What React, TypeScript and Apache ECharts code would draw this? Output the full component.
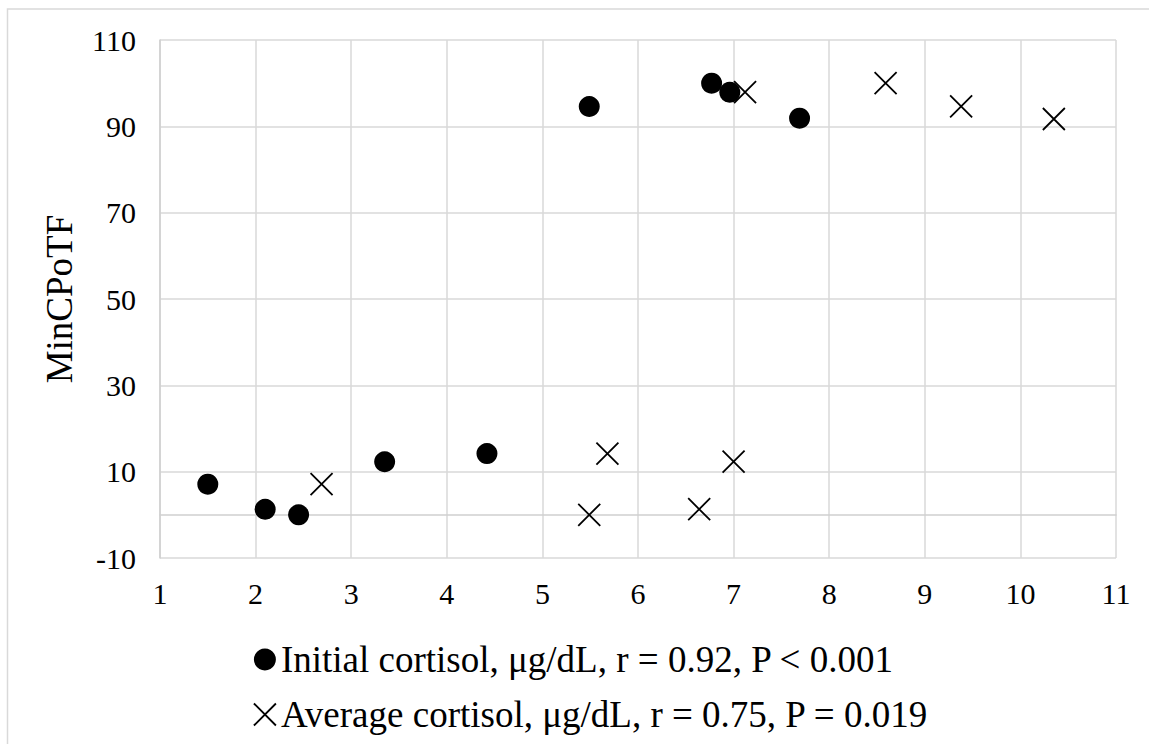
import React, { useEffect, useRef } from "react";
import * as echarts from "echarts";

const FONT = "'Liberation Serif', 'Times New Roman', serif";

const initialName = "Initial cortisol, μg/dL, r = 0.92, P < 0.001";
const averageName = "Average cortisol, μg/dL, r = 0.75, P = 0.019";

const initialX = [1.5, 2.1, 2.45, 3.35, 4.42, 5.49, 6.77, 6.96, 7.69];
const initialY = [7.1, 1.3, 0, 12.3, 14.2, 94.6, 100, 97.9, 91.9];
const averageX = [2.69, 6.64, 5.49, 7.0, 5.68, 9.38, 8.59, 7.12, 10.35];
const averageY = [7.1, 1.3, 0, 12.3, 14.2, 94.6, 100, 97.9, 91.7];

const xMin = 1;
const xMax = 11;
const yMin = -10;
const yMax = 110;

const CROSS = "path://M0,0L10,10M10,0L0,10";

export default function App() {
  const ref = useRef<HTMLDivElement>(null);

  useEffect(() => {
    document.body.style.margin = "0";
    document.body.style.overflow = "hidden";
    if (!ref.current) return;
    const chart = echarts.init(ref.current, undefined, { renderer: "svg" });
    const gridColor = "#d9d9d9";
    chart.setOption({
      animation: false,
      backgroundColor: "#ffffff",
      textStyle: { fontFamily: FONT, color: "#000" },
      graphic: [
        {
          type: "rect",
          shape: { x: 7.5, y: 9, width: 1200, height: 800 },
          style: { fill: "none", stroke: "#d9d9d9", lineWidth: 1.5 },
          silent: true,
        },
      ],
      grid: { left: 160, top: 40, right: 33, bottom: 186, containLabel: false },
      xAxis: {
        type: "value",
        min: xMin,
        max: xMax,
        interval: 1,
        axisLine: { show: true, lineStyle: { color: "#cfcfcf", width: 1.5 } },
        axisTick: { show: false },
        splitLine: { show: true, lineStyle: { color: gridColor, width: 1.5 } },
        axisLabel: { fontSize: 30, fontFamily: FONT, color: "#000", margin: 20 },
      },
      yAxis: {
        type: "value",
        min: yMin,
        max: yMax,
        interval: 20,
        name: "MinCPoTF",
        nameLocation: "middle",
        nameGap: 82,
        nameTextStyle: { fontSize: 37, fontFamily: FONT, color: "#000" },
        axisLine: { show: true, lineStyle: { color: "#cfcfcf", width: 1.5 } },
        axisTick: { show: false },
        splitLine: { show: true, lineStyle: { color: gridColor, width: 1.5 } },
        axisLabel: { fontSize: 30, fontFamily: FONT, color: "#000", margin: 24 },
      },
      legend: {
        orient: "vertical",
        left: 248,
        top: 636,
        itemWidth: 22,
        itemHeight: 22,
        itemGap: 18,
        textStyle: { fontSize: 37, fontFamily: FONT, color: "#000" },
        data: [
          { name: initialName, icon: "circle", itemStyle: { color: "#000" } },
          {
            name: averageName,
            icon: CROSS,
            itemStyle: { color: "transparent", borderColor: "#000", borderWidth: 1.8 },
          },
        ],
      },
      series: [
        {
          name: initialName,
          type: "scatter",
          symbol: "circle",
          symbolSize: 21,
          itemStyle: { color: "#000", opacity: 1 },
          data: initialX.map((x, i) => [x, initialY[i]]),
        },
        {
          name: averageName,
          type: "scatter",
          symbol: CROSS,
          symbolSize: 22,
          itemStyle: { color: "transparent", borderColor: "#000", borderWidth: 1.8, opacity: 1 },
          data: averageX.map((x, i) => [x, averageY[i]]),
        },
      ],
    });
    return () => chart.dispose();
  }, []);

  return <div ref={ref} style={{ width: 1149, height: 744 }} />;
}
